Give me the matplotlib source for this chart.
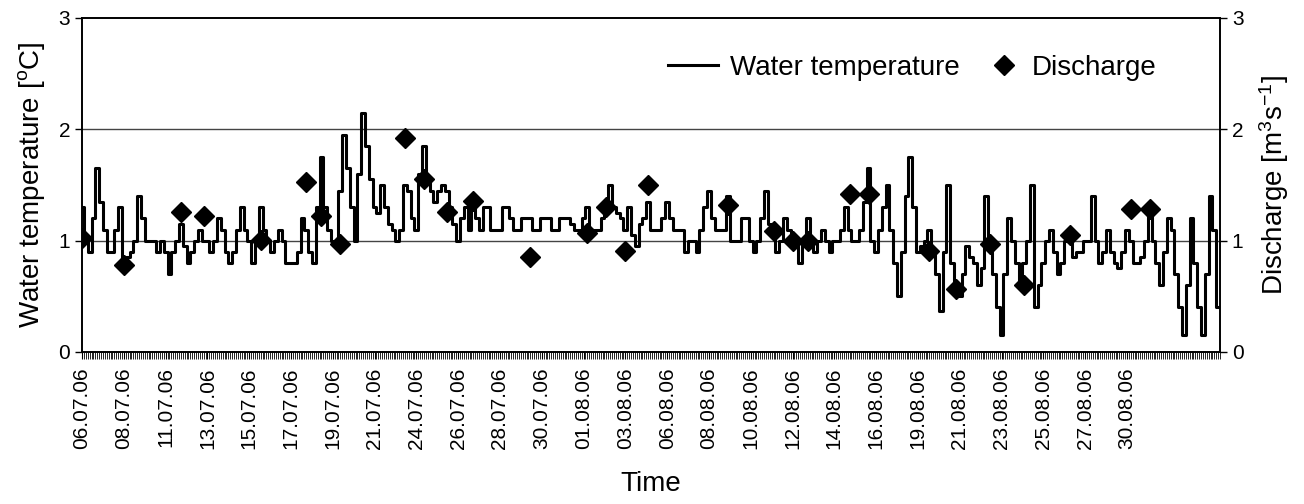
import numpy as np
import matplotlib
matplotlib.use("Agg")
import matplotlib.pyplot as plt

plt.rcParams['font.family'] = ['Liberation Sans', 'DejaVu Sans']

# water temperature, one value per sample
temp = [
    1.3, 1.0, 0.9, 1.2, 1.65, 1.35, 1.1, 0.9, 0.9, 1.1,
    1.3, 0.8, 0.85, 0.9, 1.0, 1.4, 1.2, 1.0, 1.0, 1.0,
    0.9, 1.0, 0.9, 0.7, 0.9, 1.0, 1.15, 0.95, 0.8, 0.9,
    1.0, 1.1, 1.0, 1.0, 0.9, 1.0, 1.2, 1.1, 0.9, 0.8,
    0.9, 1.1, 1.3, 1.1, 1.0, 0.8, 1.0, 1.3, 1.1, 1.0,
    0.9, 1.0, 1.1, 1.0, 0.8, 0.8, 0.8, 0.9, 1.2, 1.1,
    0.9, 0.8, 1.3, 1.75, 1.3, 1.1, 1.0, 0.95, 1.45, 1.95,
    1.65, 1.3, 1.0, 1.6, 2.15, 1.85, 1.55, 1.3, 1.25, 1.5,
    1.3, 1.15, 1.1, 1.0, 1.1, 1.5, 1.45, 1.2, 1.1, 1.6,
    1.85, 1.55, 1.45, 1.35, 1.45, 1.5, 1.45, 1.3, 1.15, 1.0,
    1.2, 1.3, 1.1, 1.3, 1.2, 1.1, 1.3, 1.3, 1.1, 1.1,
    1.1, 1.3, 1.3, 1.2, 1.1, 1.1, 1.2, 1.2, 1.2, 1.1,
    1.1, 1.2, 1.2, 1.2, 1.1, 1.1, 1.2, 1.2, 1.2, 1.15,
    1.1, 1.1, 1.2, 1.3, 1.1, 1.1, 1.1, 1.2, 1.3, 1.5,
    1.3, 1.25, 1.2, 1.1, 1.3, 1.05, 0.95, 1.15, 1.2, 1.35,
    1.1, 1.1, 1.1, 1.2, 1.35, 1.2, 1.1, 1.1, 1.1, 0.9,
    1.0, 1.0, 0.9, 1.1, 1.3, 1.45, 1.2, 1.1, 1.1, 1.1,
    1.4, 1.0, 1.0, 1.0, 1.2, 1.2, 1.0, 0.9, 1.0, 1.2,
    1.45, 1.15, 1.05, 0.9, 1.0, 1.2, 1.1, 1.0, 0.95, 0.8,
    1.0, 1.2, 1.0, 0.9, 1.0, 1.1, 1.0, 0.9, 1.0, 1.0,
    1.1, 1.3, 1.1, 1.0, 1.0, 1.1, 1.35, 1.65, 1.0, 0.9,
    1.1, 1.3, 1.5, 1.1, 0.8, 0.5, 0.9, 1.4, 1.75, 1.3,
    0.9, 0.95, 1.0, 1.1, 0.9, 0.7, 0.37, 0.9, 1.5, 0.8,
    0.55, 0.5, 0.7, 0.95, 0.85, 0.8, 0.6, 0.75, 1.4, 1.0,
    0.7, 0.4, 0.15, 0.7, 1.2, 1.0, 0.8, 0.6, 0.8, 1.0,
    1.5, 0.4, 0.6, 0.8, 1.0, 1.1, 0.9, 0.7, 0.8, 1.0,
    1.0, 0.85, 0.9, 0.9, 1.0, 1.0, 1.4, 1.0, 0.8, 0.9,
    1.1, 0.9, 0.8, 0.75, 0.9, 1.1, 1.0, 0.8, 0.8, 0.85,
    1.0, 1.3, 1.0, 0.8, 0.6, 0.9, 1.2, 1.1, 0.7, 0.4,
    0.15, 0.6, 1.2, 0.8, 0.4, 0.15, 0.7, 1.4, 1.1, 0.4,
]

# discharge measurements: sample index and value
discharge_pos = [0, 11, 26, 32, 47, 59, 63, 68, 85, 90, 96, 103, 118, 133, 138,
                 143, 149, 170, 182, 187, 191, 202, 207, 223, 230, 239, 248, 260, 276, 281]
discharge = [1.02, 0.78, 1.26, 1.22, 1.01, 1.53, 1.22, 0.97, 1.92, 1.55, 1.26, 1.36, 0.85, 1.07, 1.30,
             0.91, 1.50, 1.32, 1.09, 1.00, 1.00, 1.42, 1.42, 0.91, 0.57, 0.97, 0.60, 1.05, 1.28, 1.28]

date_labels = ['06.07.06', '08.07.06', '11.07.06', '13.07.06', '15.07.06', '17.07.06',
               '19.07.06', '21.07.06', '24.07.06', '26.07.06', '28.07.06', '30.07.06',
               '01.08.06', '03.08.06', '06.08.06', '08.08.06', '10.08.06', '12.08.06',
               '14.08.06', '16.08.06', '19.08.06', '21.08.06', '23.08.06', '25.08.06',
               '27.08.06', '30.08.06']
label_step = 11

x = np.arange(len(temp))

fig = plt.figure(figsize=(13.04, 5.04), dpi=100)
ax = fig.add_axes([0.0629, 0.3016, 0.8727, 0.6627])
ax2 = ax.twinx()

ax.plot(x, temp, drawstyle='steps-mid', color='black', lw=2.2, label='Water temperature')
ax2.plot(discharge_pos, discharge, 'D', color='black', ms=10, ls='none', label='Discharge')

ax.set_xlim(0, 299.5)
ax.set_ylim(0, 3)
ax2.set_ylim(0, 3)
ax.set_yticks([0, 1, 2, 3])
ax2.set_yticks([0, 1, 2, 3])
for y in (1, 2):
    ax.axhline(y, color='#444444', lw=1, zorder=0)

ax.set_xticks(np.arange(len(date_labels)) * label_step)
ax.set_xticklabels(date_labels, rotation=90, fontsize=15)
ax.set_xticks(np.arange(0, 300, 0.5), minor=True)
ax.tick_params(axis='x', which='major', length=5, width=0.8, pad=6)
ax.tick_params(axis='x', which='minor', length=5, width=0.6)
ax.tick_params(axis='y', labelsize=15, length=5, width=1)
ax2.tick_params(axis='y', labelsize=15, length=5, width=1)

for a in (ax, ax2):
    for s in a.spines.values():
        s.set_linewidth(1.2)

ax.set_ylabel('Water temperature [$\\mathregular{^o}$C]', fontsize=20, labelpad=8)
ax2.set_ylabel('Discharge [m$\\mathregular{^3}$s$\\mathregular{^{-1}}$]', fontsize=20, labelpad=10)
ax.set_xlabel('Time', fontsize=20, labelpad=16)

h1, l1 = ax.get_legend_handles_labels()
h2, l2 = ax2.get_legend_handles_labels()
leg1 = ax2.legend(h1, l1, loc='center right', bbox_to_anchor=(960 / 1304, 1 - 68 / 504),
                  bbox_transform=fig.transFigure, frameon=False, fontsize=20,
                  handlelength=1.8, handletextpad=0.43, borderpad=0, borderaxespad=0)
ax2.add_artist(leg1)
ax2.legend(h2, l2, loc='center right', bbox_to_anchor=(1157 / 1304, 1 - 68 / 504),
           bbox_transform=fig.transFigure, frameon=False, fontsize=20,
           handlelength=0.8, handletextpad=0.6, borderpad=0, borderaxespad=0)

fig.savefig('out.png', dpi=100)
